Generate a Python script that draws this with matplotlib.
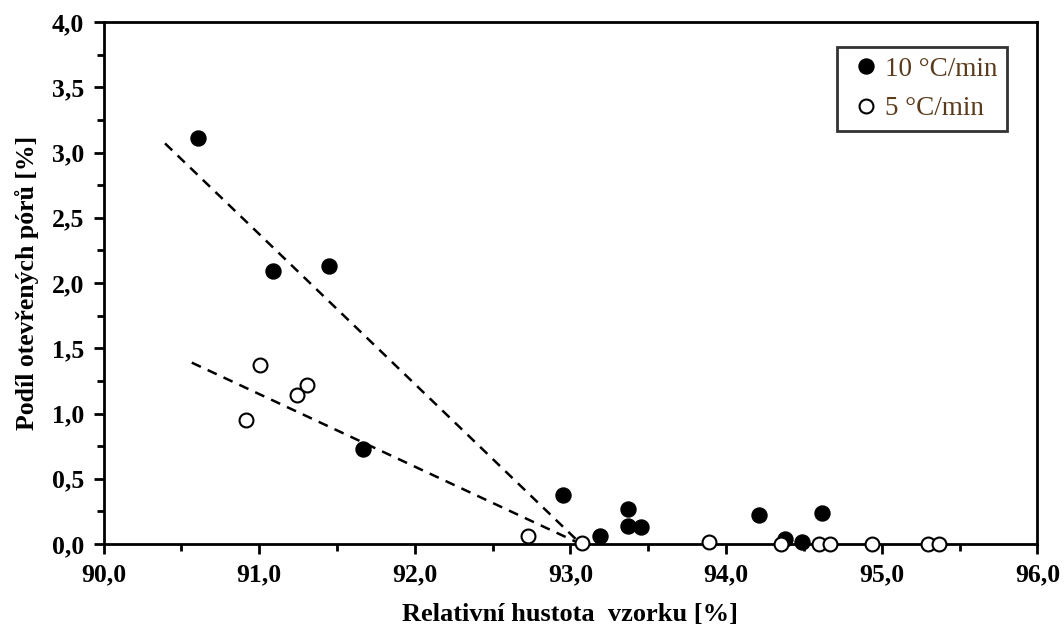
import matplotlib
matplotlib.use("Agg")
import matplotlib.pyplot as plt
from matplotlib.ticker import MultipleLocator, FuncFormatter

# 10 °C/min (filled)
x10 = [90.61, 91.09, 91.45, 91.67, 92.95, 93.19, 93.37, 93.37, 93.45,
       94.21, 94.38, 94.49, 94.615]
y10 = [3.11, 2.09, 2.13, 0.73, 0.375, 0.06, 0.265, 0.135, 0.13,
       0.225, 0.04, 0.015, 0.235]

# 5 °C/min (open)
x5 = [90.916, 91.006, 91.245, 91.306, 92.73, 93.075, 93.89, 94.35,
      94.60, 94.67, 94.94, 95.30, 95.37]
y5 = [0.95, 1.37, 1.14, 1.22, 0.065, 0.005, 0.018, 0.002,
      0.002, 0.0, 0.0, 0.0, 0.0]

# trend lines (dashed)
trend10_x = [90.395, 93.05]
trend10_y = [3.07, 0.02]
trend5_x = [90.567, 93.03]
trend5_y = [1.39, 0.02]

labels = ["10 °C/min", "5 °C/min"]

plt.rcParams['font.family'] = ['Liberation Serif', 'DejaVu Serif']

fig = plt.figure(figsize=(10.64, 6.3), dpi=100)
ax = fig.add_axes([0.0973, 0.1365, 0.8777, 0.8285])

ax.plot(trend10_x, trend10_y, color='black', lw=1.8, ls=(0, (4, 3)), zorder=2)
ax.plot(trend5_x, trend5_y, color='black', lw=1.8, ls=(0, (4, 3)), zorder=2)

ax.plot(x10, y10, 'o', ms=10.8, mfc='black', mec='black', mew=1.0,
        label=labels[0], zorder=3, clip_on=False)
ax.plot(x5, y5, 'o', ms=10, mfc='white', mec='black', mew=1.5,
        label=labels[1], zorder=4, clip_on=False)

ax.set_xlim(90, 96)
ax.set_ylim(0, 4)
ax.xaxis.set_major_locator(MultipleLocator(1.0))
ax.xaxis.set_minor_locator(MultipleLocator(0.5))
ax.yaxis.set_major_locator(MultipleLocator(0.5))
ax.yaxis.set_minor_locator(MultipleLocator(0.25))
comma = FuncFormatter(lambda v, p: ("%.1f" % v).replace('.', ','))
ax.xaxis.set_major_formatter(comma)
ax.yaxis.set_major_formatter(comma)

ax.tick_params(which='major', direction='out', length=7, width=2,
               labelsize=18.5, pad=7)
ax.tick_params(which='minor', direction='out', length=5, width=2)
for lab in ax.get_xticklabels() + ax.get_yticklabels():
    lab.set_fontweight('bold')
for s in ax.spines.values():
    s.set_linewidth(2)

ax.set_xlabel('Relativní hustota  vzorku [%]', fontsize=19,
              fontweight='bold', labelpad=12)
ax.set_ylabel('Podíl otevřených pórů [%]', fontsize=18.5,
              fontweight='bold', labelpad=9)

leg = ax.legend(loc='upper right', bbox_to_anchor=(0.967, 0.952),
                fontsize=19.5, frameon=True, fancybox=False,
                handletextpad=0.0, handlelength=1.4, markerscale=1.0,
                borderpad=0.35, labelspacing=0.55, borderaxespad=0.0)
leg.get_frame().set_edgecolor('black')
leg.get_frame().set_linewidth(2)
for t in leg.get_texts():
    t.set_color('#5a3b1c')

fig.savefig('out.png', dpi=100)
